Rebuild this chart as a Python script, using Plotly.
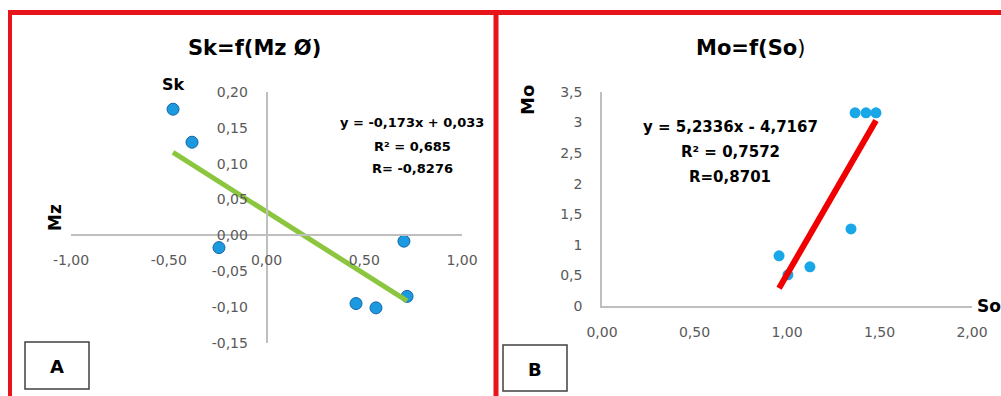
import plotly.graph_objects as go

W, H = 1001, 396

# Panel A: Sk as a function of Mz
mz = [-0.478, -0.381, -0.243, 0.703, 0.458, 0.560, 0.719]
sk = [0.176, 0.130, -0.017, -0.008, -0.095, -0.101, -0.085]
a_slope, a_intercept = -0.173, 0.033
a_r2, a_r = "0,685", "-0,8276"

# Panel B: Mo as a function of So
so = [1.368, 1.427, 1.481, 1.346, 0.957, 1.005, 1.124]
mo = [3.16, 3.16, 3.16, 1.26, 0.82, 0.51, 0.64]
b_slope, b_intercept = 5.2336, -4.7167
b_r2, b_r = "0,7572", "0,8701"

a_xticks = [-1.0, -0.5, 0.0, 0.5, 1.0]
a_yticks = [-0.15, -0.10, -0.05, 0.0, 0.05, 0.10, 0.15, 0.20]
b_xticks = [0.0, 0.5, 1.0, 1.5, 2.0]
b_yticks = [0, 0.5, 1, 1.5, 2, 2.5, 3, 3.5]

FONT = "DejaVu Sans"
GRAY = "#595959"
AXIS = "#BFBFBF"


def px(x):
    return x / W


def py(y):
    return 1 - y / H


def comma(v, fmt):
    return format(v, fmt).replace(".", ",")


# plot-area geometry (pixels)
A_X0, A_X1, A_Y0, A_Y1 = 71, 462, 92, 343
B_X0, B_X1, B_Y0, B_Y1 = 602, 972, 92, 306

fig = go.Figure()

# scatter points
fig.add_trace(go.Scatter(
    x=mz, y=sk, mode="markers", xaxis="x", yaxis="y",
    marker=dict(size=12, color="#1C9AE0", line=dict(color="#1565A8", width=1)),
    showlegend=False, hoverinfo="skip"))
fig.add_trace(go.Scatter(
    x=so, y=mo, mode="markers", xaxis="x2", yaxis="y2",
    marker=dict(size=11, color="#1AA7E8", line=dict(width=0)),
    showlegend=False, hoverinfo="skip"))

# linear trend lines over the data span
ax_ends = [min(mz), max(mz)]
fig.add_trace(go.Scatter(
    x=ax_ends, y=[a_slope * v + a_intercept for v in ax_ends],
    mode="lines", xaxis="x", yaxis="y",
    line=dict(color="#8CC63F", width=5), showlegend=False, hoverinfo="skip"))
bx_ends = [min(so), max(so)]
fig.add_trace(go.Scatter(
    x=bx_ends, y=[b_slope * v + b_intercept for v in bx_ends],
    mode="lines", xaxis="x2", yaxis="y2",
    line=dict(color="#F00000", width=6), showlegend=False, hoverinfo="skip"))

tickfont = dict(family=FONT, size=14, color=GRAY)

# panel A axes cross at the origin
a_xrange = [-1.0, 1.0]
a_yrange = [-0.15, 0.20]
a_ypos = py(A_Y1) + (0 - a_yrange[0]) / (a_yrange[1] - a_yrange[0]) * (py(A_Y0) - py(A_Y1))
a_xpos = px(A_X0) + (0 - a_xrange[0]) / (a_xrange[1] - a_xrange[0]) * (px(A_X1) - px(A_X0))

axis_common = dict(showline=True, linecolor=AXIS, linewidth=1.5, showgrid=False,
                   zeroline=False, ticks="", tickfont=tickfont)

fig.update_layout(
    width=W, height=H,
    margin=dict(l=0, r=0, t=0, b=0, pad=0, autoexpand=False),
    paper_bgcolor="white", plot_bgcolor="white",
    xaxis=dict(domain=[px(A_X0), px(A_X1)], range=a_xrange, anchor="free",
               position=a_ypos, tickvals=a_xticks,
               ticktext=[comma(v, ".2f") for v in a_xticks],
               ticklabelstandoff=12, **axis_common),
    yaxis=dict(domain=[py(A_Y1), py(A_Y0)], range=a_yrange, anchor="free",
               position=a_xpos, tickvals=a_yticks,
               ticktext=[comma(v, ".2f") for v in a_yticks],
               ticklabelstandoff=15, **axis_common),
    xaxis2=dict(domain=[px(B_X0), px(B_X1)], range=[0, 2], anchor="y2",
                tickvals=b_xticks, ticktext=[comma(v, ".2f") for v in b_xticks],
                ticklabelstandoff=12, **axis_common),
    yaxis2=dict(domain=[py(B_Y1), py(B_Y0)], range=[0, 3.5], anchor="x2",
                tickvals=b_yticks, ticktext=[comma(v, "g") for v in b_yticks],
                ticklabelstandoff=15, **axis_common),
)


def label(x, y, text, size, angle=0, xanchor="center", color="black"):
    fig.add_annotation(x=px(x), y=py(y), xref="paper", yref="paper", text=text,
                       showarrow=False, xanchor=xanchor, yanchor="middle",
                       textangle=angle, font=dict(family=FONT, size=size, color=color))


# titles
label(255, 48, "<b>Sk=f(Mz Ø)</b>", 21)
label(750, 48, "<b>Mo=f(So</b>)", 21)

# axis names
label(173, 84, "<b>Sk</b>", 16)
label(55, 218, "<b>Mz</b>", 17, angle=-90)
label(527, 100, "<b>Mo</b>", 18, angle=-90)
label(975, 306, "<b>So</b>", 17, xanchor="left")

# regression statistics
label(412, 122, "<b>y = " + comma(a_slope, ".3f") + "x + " + comma(a_intercept, ".3f") + "</b>", 13)
label(412, 146, f"<b>R² = {a_r2}</b>", 13)
label(412, 169, f"<b>R= {a_r}</b>", 13)
label(730, 127, "<b>y = " + comma(b_slope, ".4f") + "x - " + comma(abs(b_intercept), ".4f") + "</b>", 15)
label(730, 152, f"<b>R² = {b_r2}</b>", 15)
label(730, 177, f"<b>R={b_r}</b>", 15)

shapes = []
# panel letter boxes
for (x0, y0, x1, y1, letter) in [(25, 342, 89, 389, "A"), (503, 345, 567, 391, "B")]:
    shapes.append(dict(type="rect", xref="paper", yref="paper",
                       x0=px(x0), x1=px(x1), y0=py(y1), y1=py(y0),
                       line=dict(color="#404040", width=1.5), fillcolor="white"))
    label((x0 + x1) / 2, (y0 + y1) / 2 + 1, f"<b>{letter}</b>", 18)

# red panel frames
red = dict(color="#E8141B", width=5)
shapes.append(dict(type="line", xref="paper", yref="paper",
                   x0=px(8), x1=1.0, y0=py(12.5), y1=py(12.5), line=red))
shapes.append(dict(type="line", xref="paper", yref="paper",
                   x0=px(10), x1=px(10), y0=py(10), y1=0, line=dict(color="#E8141B", width=4)))
shapes.append(dict(type="line", xref="paper", yref="paper",
                   x0=px(496), x1=px(496), y0=py(10), y1=0, line=red))
fig.update_layout(shapes=shapes)

fig.write_html("out.html")
